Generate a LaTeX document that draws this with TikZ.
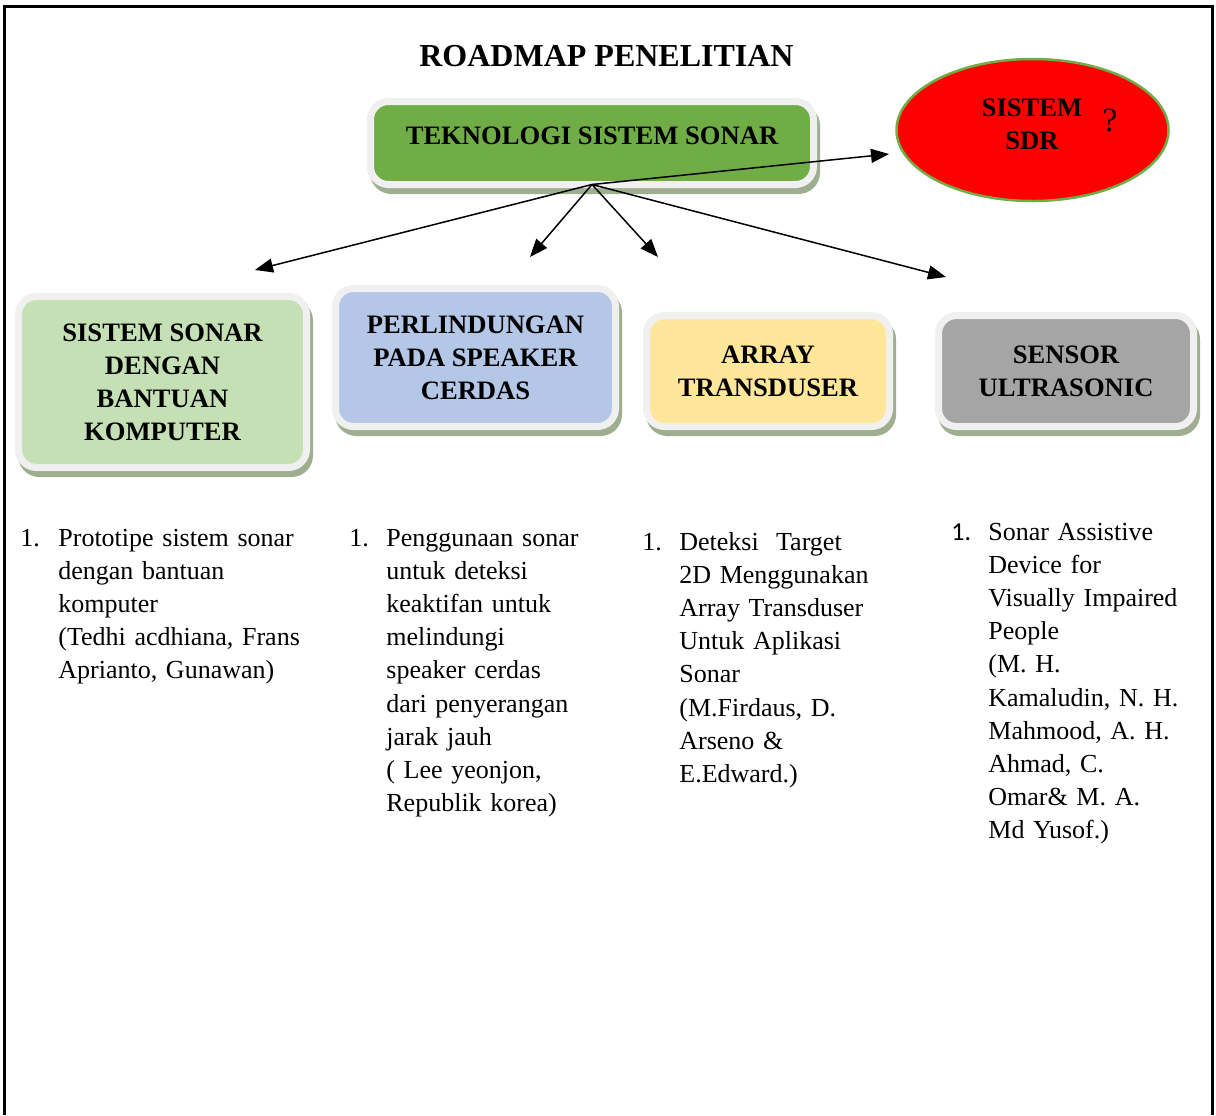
\documentclass[tikz,border=0pt]{standalone}
\usepackage{fontspec}
\setmainfont{Liberation Serif}
\newfontfamily\numsans{Carlito}
\usetikzlibrary{shapes.geometric,shadows,arrows.meta}

\definecolor{techgreen}{RGB}{112,173,71}
\definecolor{lightgreen}{RGB}{197,224,180}
\definecolor{lightblue}{RGB}{180,199,231}
\definecolor{lightgold}{RGB}{255,230,153}
\definecolor{midgray}{RGB}{165,165,165}
\definecolor{framegray}{RGB}{240,240,240}
\definecolor{shadowgreen}{RGB}{160,174,144}

\begin{document}
\begin{tikzpicture}[x=0.5pt,y=-0.5pt,
  card/.style={rectangle, rounded corners=9pt, draw=framegray, line width=3.5pt,
    inner sep=0pt, outer sep=0pt, align=center,
    font=\fontsize{13.3}{16.5}\selectfont\bfseries,
    drop shadow={shadow xshift=1.5pt, shadow yshift=-3pt, fill=shadowgreen,
      draw=shadowgreen, line width=3.5pt, opacity=1}},
  link/.style={-{Triangle[length=9pt,width=7pt]}, line width=0.75pt},
  entry/.style={anchor=base west, inner sep=0pt, align=left, text width=150pt,
    font=\fontsize{13}{16.6}\selectfont},
  num/.style={anchor=base west, inner sep=0pt, font=\fontsize{13}{16.6}\selectfont}]

% page area
\useasboundingbox (0,0) rectangle (1216,1115);
\fill[white] (0,0) rectangle (1216,1115);

% outer frame, open at the bottom
\draw[line width=1.5pt] (4.5,1115) -- (4.5,6.5) -- (1212.5,6.5) -- (1212.5,1115);

% title
\node[font=\fontsize{16}{19}\selectfont\bfseries, anchor=base, inner sep=0pt]
  (title) at (606.5,66) {ROADMAP PENELITIAN};

% main topic
\node[card, fill=techgreen, minimum width=221.5pt, minimum height=41.5pt, text depth=7pt]
  (tek) at (592,143) {TEKNOLOGI SISTEM SONAR};

% open question
\node[ellipse, fill=red, draw=techgreen, line width=1.25pt, minimum width=136pt,
  minimum height=71pt, inner sep=0pt] (sdr) at (1032.5,130) {};
\node[font=\fontsize{13.3}{16.5}\selectfont\bfseries, align=center, inner sep=0pt]
  (sdrtext) at (1032,124.5) {SISTEM\\SDR};
\node[font=\fontsize{17}{17}\selectfont, inner sep=0pt] (query) at (1110,120) {?};

% research areas
\node[card, fill=lightgreen, minimum width=144pt, minimum height=85.5pt]
  (komputer) at (162.5,382) {SISTEM SONAR\\DENGAN\\BANTUAN\\KOMPUTER};
\node[card, fill=lightblue, minimum width=140pt, minimum height=69pt]
  (speaker) at (475.5,357.5) {PERLINDUNGAN\\PADA SPEAKER\\CERDAS};
\node[card, fill=lightgold, minimum width=121.5pt, minimum height=55.5pt]
  (array) at (768,371) {ARRAY\\TRANSDUSER};
\node[card, fill=midgray, minimum width=127.5pt, minimum height=55.5pt]
  (sensor) at (1066,371) {SENSOR\\ULTRASONIC};

% arrow ends
\coordinate (toKomputer) at (255,270);
\coordinate (toSpeaker) at (530,257);
\coordinate (toArray) at (658,257);
\coordinate (toSensor) at (946,277);
\coordinate (toSdr) at (889,154);

\draw[link] (tek.south) -- (toKomputer);
\draw[link] (tek.south) -- (toSpeaker);
\draw[link] (tek.south) -- (toArray);
\draw[link] (tek.south) -- (toSensor);
\draw[link] (tek.south) -- (toSdr);

% references under each area
\node[num] (n1) at (20,546) {1.};
\node[entry] (ref1) at (58,546) {Prototipe sistem sonar\\dengan bantuan\\komputer\\(Tedhi acdhiana, Frans\\Aprianto, Gunawan)};

\node[num] (n2) at (349,546) {1.};
\node[entry] (ref2) at (386,546) {Penggunaan sonar\\untuk deteksi\\keaktifan untuk\\melindungi\\speaker cerdas\\dari penyerangan\\jarak jauh\\(\ Lee yeonjon,\\Republik korea)};

\node[num] (n3) at (642,550) {1.};
\node[entry] (ref3) at (679,550) {Deteksi\ \ Target\\2D Menggunakan\\Array Transduser\\Untuk Aplikasi\\Sonar\\(M.Firdaus, D.\\Arseno \&\\E.Edward.)};

\node[num, font=\fontsize{13}{16.6}\selectfont\numsans] (n4) at (951,540) {1.};
\node[entry] (ref4) at (988,540) {Sonar Assistive\\Device for\\Visually Impaired\\People\\(M. H.\\Kamaludin, N. H.\\Mahmood, A. H.\\Ahmad, C.\\Omar\& M. A.\\Md Yusof.)};

\end{tikzpicture}
\end{document}
